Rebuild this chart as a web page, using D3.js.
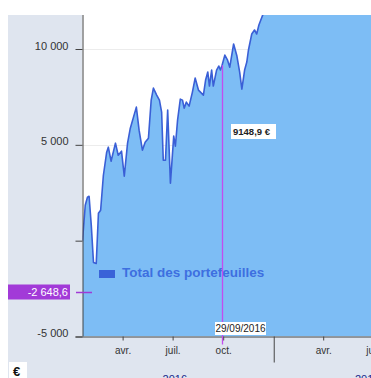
<!DOCTYPE html>
<html><head><meta charset="utf-8">
<script src="https://cdn.jsdelivr.net/npm/d3@7"></script>
<style>
html,body{margin:0;padding:0;background:#fff;overflow:hidden;}
svg{display:block;font-family:"Liberation Sans",Arial,sans-serif;}
</style></head><body>
<svg id="c" width="371" height="378"></svg>
<script>
// ---- data ----
const dates = ["2016-01-19","2016-01-24","2016-01-28","2016-01-31","2016-02-04","2016-02-08","2016-02-13","2016-02-17","2016-02-21","2016-02-26",
"2016-03-03","2016-03-06","2016-03-11","2016-03-19","2016-03-24","2016-03-30","2016-04-04","2016-04-10","2016-04-15","2016-04-26",
"2016-05-01","2016-05-07","2016-05-12","2016-05-18","2016-05-23","2016-05-27","2016-06-02","2016-06-07","2016-06-11","2016-06-14",
"2016-06-18","2016-06-22","2016-06-27","2016-07-03","2016-07-06","2016-07-10","2016-07-15","2016-07-19","2016-07-22","2016-07-26",
"2016-07-31","2016-08-06","2016-08-11","2016-08-17","2016-08-26","2016-08-30","2016-09-03","2016-09-06","2016-09-10","2016-09-13",
"2016-09-19","2016-09-23","2016-09-26","2016-09-29","2016-10-04","2016-10-09","2016-10-13","2016-10-20","2016-10-26","2016-10-31",
"2016-11-04","2016-11-09","2016-11-13","2016-11-16","2016-11-22","2016-11-27","2016-12-01","2016-12-05","2016-12-12","2016-12-20",
"2017-01-05","2017-02-10","2017-03-20","2017-05-01","2017-06-27"];
const values = [0,1845,2263,2315,800,-1134,-1186,1427,1584,3413,
4616,4877,4145,5086,4459,4668,3361,5086,5870,6968,
5765,4720,5138,5348,7334,7961,7595,7334,6707,4198,
4198,6811,2995,5452,4929,6288,7385,7333,6915,7229,
7020,7752,8484,7857,7595,8380,8798,8066,8902,8066,
8902,9111,8902,9148.9,9680,9419,9053,10261,9634,8798,
7909,8902,9320,9947,10783,10992,10783,11254,11777,12400,
13000,13800,14500,15200,16000];
const yTicks = [-5000, 0, 5000, 10000];
const yTickLabels = ["-5 000", "", "5 000", "10 000"];
const monthNames = ["janv.","févr.","mars","avr.","mai","juin","juil.","août","sept.","oct.","nov.","déc."];
const yearLabels = ["2016","2017"];
const seriesName = "Total des portefeuilles";
const cursorDate = "2016-09-29";
const cursorValue = 9148.9;
const cursorLabel = "9148,9 €";
const cursorDateLabel = "29/09/2016";
const refValue = -2648.6;
const refLabel = "-2 648,6";
const unitLabel = "€";

// ---- layout ----
(function(){
const svg = d3.select("#c");
const parse = d3.timeParse("%Y-%m-%d");
const data = dates.map((d,i)=>({date:parse(d), value:values[i]}));
const pL = 82.5, pR = 371, pT = 15, pB = 336.5;
const x = d3.scaleTime().domain([parse("2016-01-19"), parse("2017-06-27")]).range([pL, pR]);
const y = d3.scaleLinear().domain([-5000, 10000]).range([pB, 49]);

// backgrounds
svg.append("rect").attr("x",8).attr("y",pT).attr("width",pL-8).attr("height",378-pT).attr("fill","#dfe5ef");
svg.append("rect").attr("x",8).attr("y",pB).attr("width",371-8).attr("height",378-pB).attr("fill","#dfe5ef");
svg.append("rect").attr("x",pL).attr("y",pT).attr("width",pR-pL).attr("height",pB-pT).attr("fill","#fff");

svg.append("defs").append("clipPath").attr("id","clip").append("rect")
  .attr("x",pL).attr("y",pT).attr("width",pR-pL).attr("height",pB-pT);

// grid
const g = svg.append("g").attr("clip-path","url(#clip)");
g.selectAll("line.grid").data(yTicks.filter(t=>t>0)).join("line")
  .attr("x1",pL).attr("x2",pR).attr("y1",d=>Math.round(y(d))+0.5).attr("y2",d=>Math.round(y(d))+0.5)
  .attr("stroke","#ececec");

// area + line
const area = d3.area().x(d=>x(d.date)).y0(pB).y1(d=>y(d.value));
const line = d3.line().x(d=>x(d.date)).y(d=>y(d.value));
g.append("path").datum(data).attr("d",area).attr("fill","#7dbdf5");
g.append("path").datum(data).attr("d",line).attr("fill","none").attr("stroke","#3a5fd6").attr("stroke-width",1.6).attr("stroke-linejoin","round");

// legend
svg.append("rect").attr("x",99).attr("y",270).attr("width",16).attr("height",8).attr("fill","#3a63d8");
svg.append("text").attr("x",122).attr("y",277).attr("font-size",13.5).attr("font-weight","bold")
  .attr("fill","#3d6fe0").text(seriesName);

// axes
const yAxis = d3.axisLeft(y).tickValues(yTicks).tickFormat((d,i)=>yTickLabels[i]).tickSize(7).tickPadding(7);
const ya = svg.append("g").attr("transform",`translate(${pL},0)`).call(yAxis);
ya.select(".domain").attr("d",`M0.5,${pT}V${pB}`).attr("stroke","#444");
ya.selectAll(".tick line").attr("stroke","#444");
ya.selectAll(".tick text").attr("font-size",11).attr("fill","#333").attr("font-family","Liberation Sans, Arial, sans-serif").attr("dy","0");

const quarterTicks = d3.timeMonths(parse("2016-04-01"), parse("2017-12-31"), 3);
const xAxis = d3.axisBottom(x).tickValues(quarterTicks)
  .tickFormat(d=> d.getMonth()===0 ? "" : monthNames[d.getMonth()]).tickSize(4).tickPadding(6);
const xa = svg.append("g").attr("transform",`translate(0,${pB})`).call(xAxis);
xa.select(".domain").attr("d",`M${pL-7},0.5H${pR}`).attr("stroke","#444");
xa.selectAll(".tick line").attr("stroke","#444").attr("y2",d=>d.getMonth()===0?26:4);
xa.selectAll(".tick text").attr("font-size",10).attr("fill","#333").attr("font-family","Liberation Sans, Arial, sans-serif");

// year labels
const yearPos = [parse("2016-07-05"), parse("2017-06-20")];
svg.selectAll("text.year").data(yearPos).join("text").attr("class","year")
  .attr("x",d=>x(d))
  .attr("y",383).attr("font-size",11).attr("fill","#1a2a8c").attr("text-anchor","middle")
  .text((d,i)=>yearLabels[i]);

// cursor
const cx = Math.round(x(parse(cursorDate)))+0.5;
svg.append("line").attr("x1",cx).attr("x2",cx).attr("y1",y(cursorValue)).attr("y2",pB+8)
  .attr("stroke","#c24cf0").attr("stroke-width",1.3);
svg.append("rect").attr("x",231).attr("y",124).attr("width",45).attr("height",15).attr("fill","#fff");
svg.append("text").attr("x",233).attr("y",135).attr("font-size",9.5).attr("font-weight","bold").attr("fill","#222").text(cursorLabel);
svg.append("rect").attr("x",215).attr("y",322).attr("width",51).attr("height",13).attr("fill","#fff");
svg.append("text").attr("x",240.5).attr("y",332).attr("font-size",10).attr("fill","#222").attr("text-anchor","middle").text(cursorDateLabel);

// reference value
const ry = Math.round(y(refValue))+1.5;
svg.append("rect").attr("x",8).attr("y",ry-8).attr("width",62).attr("height",15).attr("fill","#a23ad8");
svg.append("text").attr("x",68).attr("y",ry+3.5).attr("font-size",11).attr("fill","#fff").attr("text-anchor","end").text(refLabel);
svg.append("line").attr("x1",76).attr("x2",92).attr("y1",ry).attr("y2",ry).attr("stroke","#a03ad6").attr("stroke-width",1.5);

// unit box
svg.append("rect").attr("x",9).attr("y",362).attr("width",18).attr("height",16).attr("fill","#fff");
svg.append("text").attr("x",13).attr("y",376).attr("font-size",13).attr("font-weight","bold").attr("fill","#111").text(unitLabel);
})();
</script></body></html>
